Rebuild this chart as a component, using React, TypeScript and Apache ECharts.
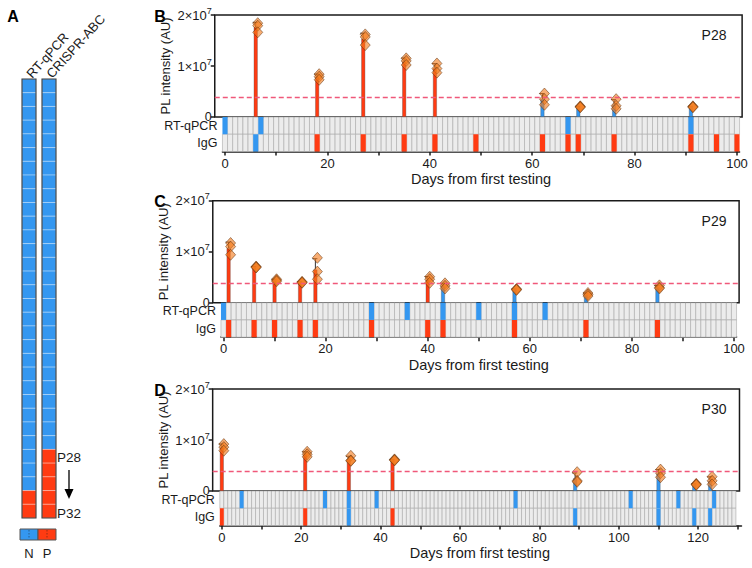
import React, { useEffect, useRef } from "react";
import * as echarts from "echarts";

const FONT = "'Liberation Sans', Arial, Helvetica, sans-serif";
const RED = "#ff3b12";
const BLUE = "#3497f0";
const CELL_GRAY = "#ececec";
const CELL_LINE = "#a9a9a9";
const INK = "#1a1a1a";
const THRESHOLD = 3.8e6;

// ---------- Panel A: per-patient results (P1 ... P32) ----------
const methodNames = ["RT-qPCR", "CRISPR-ABC"];
const rtqpcrResults = "NNNNNNNNNNNNNNNNNNNNNNNNNNNNNNPP".split("");
const crisprResults = "NNNNNNNNNNNNNNNNNNNNNNNNNNNPPPPP".split("");
const legendLabels = ["N", "P"];
const rangeLabels = ["P28", "P32"];

// ---------- Shared ----------
const yTicks = [0, 1e7, 2e7];
const stripRows = ["IgG", "RT-qPCR"];
const xAxisName = "Days from first testing";
const yAxisName = "PL intensity (AU)";

// ---------- Panel B: P28 (replicates in 10^6 AU) ----------
const p28Days = [6, 18, 27, 35, 41, 62, 69, 76, 91];
const p28Replicates = [
  [18.4, 17.9, 16.6],
  [8.4, 7.9, 7.3],
  [16.2, 15.7, 14.1],
  [11.5, 11.0, 10.2],
  [10.5, 9.5, 8.7],
  [4.6, 3.5, 2.4],
  [2.1, 2.0, 1.9],
  [3.5, 2.2, 1.6],
  [2.1, 2.0, 1.9],
];
const p28RtqpcrNeg = [0, 7, 67, 91];
const p28RtqpcrPos: number[] = [];
const p28IggNeg = [6];
const p28IggPos = [18, 27, 35, 41, 49, 62, 67, 69, 76, 91, 96, 100];

// ---------- Panel C: P29 ----------
const p29Days = [1, 6, 10, 15, 18, 40, 43, 57, 71, 85];
const p29Replicates = [
  [11.7, 11.0, 9.4],
  [7.1, 7.0, 6.9],
  [4.6, 4.4, 4.2],
  [4.1, 4.0, 3.9],
  [8.8, 6.1, 4.6],
  [5.1, 4.6, 3.9],
  [3.8, 3.3, 2.8],
  [2.7, 2.6, 2.5],
  [1.9, 1.6, 1.3],
  [3.4, 3.0, 2.8],
];
const p29RtqpcrNeg = [0, 29, 36, 43, 50, 57, 63];
const p29RtqpcrPos: number[] = [];
const p29IggNeg: number[] = [];
const p29IggPos = [1, 6, 10, 15, 18, 29, 40, 43, 57, 71, 85];

// ---------- Panel D: P30 ----------
const p30Days = [0, 21, 32, 43, 89, 110, 119, 123];
const p30Replicates = [
  [9.2, 8.6, 7.9],
  [7.7, 7.2, 6.7],
  [6.9, 6.0, 5.9],
  [6.2, 6.1, 6.0],
  [3.7, 2.0, 1.8],
  [4.2, 3.5, 2.7],
  [1.4, 1.3, 1.2],
  [2.8, 2.0, 1.3],
];
const p30RtqpcrNeg = [5, 26, 32, 39, 74, 103, 110, 115, 124];
const p30RtqpcrPos: number[] = [];
const p30IggNeg = [32, 89, 110, 119, 123];
const p30IggPos = [0, 21, 43];

type Panel = {
  letter: string;
  patient: string;
  days: number[];
  reps: number[][];
  rtNeg: number[];
  rtPos: number[];
  iggNeg: number[];
  iggPos: number[];
  nCells: number;
  axisMax: number;
  x0: number;
  ppd: number;
  upperMin: number;
  upperMax: number;
  stripMax: number;
  top: number;
};

const panels: Panel[] = [
  {
    letter: "B", patient: "P28", days: p28Days, reps: p28Replicates,
    rtNeg: p28RtqpcrNeg, rtPos: p28RtqpcrPos, iggNeg: p28IggNeg, iggPos: p28IggPos,
    nCells: 101, axisMax: 100, x0: 225, ppd: 5.12, upperMin: -2, upperMax: 101, stripMax: 100.5, top: 15,
  },
  {
    letter: "C", patient: "P29", days: p29Days, reps: p29Replicates,
    rtNeg: p29RtqpcrNeg, rtPos: p29RtqpcrPos, iggNeg: p29IggNeg, iggPos: p29IggPos,
    nCells: 101, axisMax: 100, x0: 223.5, ppd: 5.105, upperMin: -2.1, upperMax: 101, stripMax: 100.5, top: 200.7,
  },
  {
    letter: "D", patient: "P30", days: p30Days, reps: p30Replicates,
    rtNeg: p30RtqpcrNeg, rtPos: p30RtqpcrPos, iggNeg: p30IggNeg, iggPos: p30IggPos,
    nCells: 130, axisMax: 130, x0: 221.8, ppd: 3.97, upperMin: -2.3, upperMax: 130.4, stripMax: 130.9, top: 389,
  },
];

const UPPER_H = 102;
const STRIP_H = 34.5;

function meanSd(vals: number[]) {
  const v = vals.map((x) => x * 1e6);
  const m = v.reduce((a, b) => a + b, 0) / v.length;
  const sd = Math.sqrt(v.reduce((a, b) => a + (b - m) * (b - m), 0) / (v.length - 1));
  return { m, sd };
}

const GRID_BASE = { containLabel: false, outerBoundsMode: "none" };

function buildOption() {
  const grid: any[] = [];
  const xAxis: any[] = [];
  const yAxis: any[] = [];
  const series: any[] = [];
  const graphic: any[] = [];

  // ---------- Panel A ----------
  grid.push({ ...GRID_BASE, left: 19, top: 79, width: 40, height: 439 });
  xAxis.push({
    gridIndex: 0, type: "category", data: methodNames, position: "top",
    axisLine: { show: false }, axisTick: { show: false },
    axisLabel: { rotate: 48, fontSize: 13, color: INK, fontFamily: FONT, margin: 3, interval: 0 },
  });
  yAxis.push({ gridIndex: 0, type: "value", min: 0, max: rtqpcrResults.length, inverse: true, show: false });
  const aCells: any[] = [];
  [rtqpcrResults, crisprResults].forEach((col, ci) =>
    col.forEach((r, i) => aCells.push([ci, i, r === "P" ? 1 : 0]))
  );
  series.push({
    type: "custom", xAxisIndex: 0, yAxisIndex: 0, data: aCells, silent: true,
    renderItem: (_p: any, api: any) => {
      const c0 = api.coord([api.value(0), api.value(1)]);
      const c1 = api.coord([api.value(0), api.value(1) + 1]);
      return {
        type: "rect",
        shape: { x: c0[0] - 7, y: c0[1], width: 14, height: c1[1] - c0[1] },
        style: { fill: api.value(2) ? RED : BLUE, stroke: "rgba(255,255,255,0.4)", lineWidth: 0.8 },
      };
    },
  });
  series.push({
    type: "custom", xAxisIndex: 0, yAxisIndex: 0, data: [[0, rtqpcrResults.length], [1, crisprResults.length]], silent: true,
    renderItem: (_p: any, api: any) => {
      const c0 = api.coord([api.value(0), 0]);
      const c1 = api.coord([api.value(0), api.value(1)]);
      return {
        type: "rect",
        shape: { x: c0[0] - 7, y: c0[1], width: 14, height: c1[1] - c0[1] },
        style: { fill: "none", stroke: "#3a3a3a", lineWidth: 1.1 },
      };
    },
  });

  // ---------- Panels B, C, D ----------
  panels.forEach((p) => {
    const gU = grid.length;
    const gS = gU + 1;
    const gX = gU + 2;
    const upperLeft = p.x0 + p.upperMin * p.ppd;
    const stripLeft = p.x0 - 0.5 * p.ppd;
    grid.push({
      ...GRID_BASE,
      left: upperLeft, top: p.top, width: (p.upperMax - p.upperMin) * p.ppd, height: UPPER_H,
      show: true, borderColor: INK, borderWidth: 1.5, backgroundColor: "transparent",
    });
    grid.push({ ...GRID_BASE, left: stripLeft, top: p.top + UPPER_H, width: (p.stripMax + 0.5) * p.ppd, height: STRIP_H });
    grid.push({ ...GRID_BASE, left: p.x0, top: p.top + UPPER_H, width: p.axisMax * p.ppd, height: STRIP_H });

    xAxis.push({
      gridIndex: gU, type: "value", min: p.upperMin, max: p.upperMax,
      axisLine: { show: false, onZero: false }, axisTick: { show: false }, axisLabel: { show: false }, splitLine: { show: false },
    });
    yAxis.push({
      gridIndex: gU, type: "value", min: yTicks[0], max: yTicks[yTicks.length - 1], interval: yTicks[1] - yTicks[0],
      axisLine: { show: false, onZero: false },
      axisTick: { show: true, length: 4, lineStyle: { color: INK, width: 1.5 } },
      splitLine: { show: false },
      axisLabel: {
        margin: 3, color: INK, fontFamily: FONT, fontSize: 13, lineHeight: 7,
        formatter: (v: number) => (v === 0 ? "{z|0}" : `{b|${v / 1e7}×10}{s|7}`),
        rich: {
          z: { fontSize: 12.5, fontFamily: FONT, color: INK, lineHeight: 7 },
          b: { fontSize: 13, fontFamily: FONT, color: INK, lineHeight: 18 },
          s: { fontSize: 9, fontFamily: FONT, color: INK, verticalAlign: "top", lineHeight: 10 },
        },
      },
      name: yAxisName, nameLocation: "middle", nameGap: 43, nameRotate: 90, nameMoveOverlap: false,
      nameTextStyle: { fontSize: 13, color: INK, fontFamily: FONT },
    });

    xAxis.push({
      gridIndex: gS, type: "value", min: -0.5, max: p.stripMax,
      axisLine: { show: true, onZero: false, lineStyle: { color: INK, width: 1.5 } },
      axisTick: { show: false }, axisLabel: { show: false }, splitLine: { show: false },
    });
    yAxis.push({
      gridIndex: gS, type: "category", data: stripRows,
      axisLine: { show: false, onZero: false }, axisTick: { show: false },
      axisLabel: { fontSize: 12.5, color: INK, fontFamily: FONT, margin: 5, lineHeight: 10 },
    });

    xAxis.push({
      gridIndex: gX, type: "value", min: 0, max: p.axisMax, interval: 10,
      axisLine: { show: false, onZero: false },
      axisTick: { show: true, length: 4, lineStyle: { color: INK, width: 1.5 } },
      splitLine: { show: false },
      axisLabel: {
        interval: 0, fontSize: 13, color: INK, fontFamily: FONT, margin: 5,
        formatter: (v: number) => (v % 20 === 0 ? String(v) : ""),
      },
      name: xAxisName, nameLocation: "middle", nameGap: 20,
      nameTextStyle: { fontSize: 14.5, color: INK, fontFamily: FONT, verticalAlign: "top" },
    });
    yAxis.push({
      gridIndex: gX, type: "value", min: 0, max: 1,
      axisLine: { show: false, onZero: false }, axisTick: { show: false }, axisLabel: { show: false }, splitLine: { show: false },
    });

    const st = p.reps.map(meanSd);

    // bars (mean)
    series.push({
      type: "bar", xAxisIndex: gU, yAxisIndex: gU, barWidth: 4, silent: true,
      data: p.days.map((d, i) => ({
        value: [d, st[i].m],
        itemStyle: { color: st[i].m >= THRESHOLD ? RED : BLUE, borderColor: "rgba(70,70,70,0.55)", borderWidth: 0.6 },
      })),
      markLine: {
        silent: true, symbol: ["none", "none"], label: { show: false },
        lineStyle: { color: "#f0587a", type: [5, 3], width: 1.3, opacity: 1 },
        data: [{ yAxis: THRESHOLD, lineStyle: { color: "#f0587a", type: [5, 3], width: 1.3 } }],
      },
      z: 2,
    });

    // error bars (mean + SD)
    series.push({
      type: "custom", xAxisIndex: gU, yAxisIndex: gU, silent: true, z: 3,
      data: p.days.map((d, i) => [d, st[i].m, st[i].m + st[i].sd]),
      renderItem: (_pp: any, api: any) => {
        const a = api.coord([api.value(0), api.value(1)]);
        const b = api.coord([api.value(0), api.value(2)]);
        return {
          type: "group",
          children: [
            { type: "line", shape: { x1: a[0], y1: a[1], x2: b[0], y2: b[1] }, style: { stroke: "#333", lineWidth: 1 } },
            { type: "line", shape: { x1: b[0] - 3, y1: b[1], x2: b[0] + 2, y2: b[1] }, style: { stroke: "#333", lineWidth: 1 } },
          ],
        };
      },
    });

    // replicate points
    const pts: number[][] = [];
    p.days.forEach((d, i) => p.reps[i].forEach((v) => pts.push([d, v * 1e6])));
    series.push({
      type: "scatter", xAxisIndex: gU, yAxisIndex: gU, silent: true, z: 4,
      symbol: "diamond", symbolSize: [10, 11], symbolOffset: [2, 0],
      itemStyle: { color: "rgba(244,122,28,0.62)", borderColor: "rgba(90,45,10,0.85)", borderWidth: 0.6, opacity: 1 },
      data: pts,
    });

    // strip cells
    const grayCells: number[][] = [];
    const colorCells: number[][] = [];
    for (let d = 0; d < p.nCells; d++) {
      const rt = p.rtPos.includes(d) ? 2 : p.rtNeg.includes(d) ? 1 : 0;
      const ig = p.iggPos.includes(d) ? 2 : p.iggNeg.includes(d) ? 1 : 0;
      (rt ? colorCells : grayCells).push([d, 1, rt]);
      (ig ? colorCells : grayCells).push([d, 0, ig]);
    }
    series.push({
      type: "custom", xAxisIndex: gS, yAxisIndex: gS, silent: true, z: 1,
      data: grayCells.concat(colorCells),
      renderItem: (_pp: any, api: any) => {
        const c = api.coord([api.value(0), api.value(1)]);
        const sz = api.size([1, 1]);
        const s = api.value(2);
        return {
          type: "rect",
          shape: { x: c[0] - sz[0] / 2, y: c[1] - sz[1] / 2, width: sz[0], height: sz[1] },
          style: {
            fill: s === 2 ? RED : s === 1 ? BLUE : CELL_GRAY,
            stroke: s ? "none" : CELL_LINE,
            lineWidth: 0.6,
          },
        };
      },
    });

    graphic.push({
      type: "text", x: 160, y: p.top + 1,
      style: { text: p.letter, fontSize: 16, fontWeight: "bold", fontFamily: FONT, fill: "#000", align: "center", verticalAlign: "middle" },
    });
    graphic.push({
      type: "text", x: 714, y: p.top + 20,
      style: { text: p.patient, fontSize: 14, fontFamily: FONT, fill: INK, align: "center", verticalAlign: "middle" },
    });
  });

  // ---------- Panel A annotations ----------
  graphic.push(
    { type: "text", x: 13, y: 16, style: { text: "A", fontSize: 16, fontWeight: "bold", fontFamily: FONT, fill: "#000", align: "center", verticalAlign: "middle" } },
    { type: "rect", shape: { x: 20, y: 529, width: 18, height: 11 }, style: { fill: BLUE, stroke: "#555", lineWidth: 1 } },
    { type: "rect", shape: { x: 38, y: 529, width: 18, height: 11 }, style: { fill: RED, stroke: "#555", lineWidth: 1 } },
    { type: "line", shape: { x1: 29, y1: 530, x2: 29, y2: 539 }, style: { stroke: "rgba(30,30,30,0.6)", lineWidth: 0.8, lineDash: [1.5, 1.5] } },
    { type: "line", shape: { x1: 47, y1: 530, x2: 47, y2: 539 }, style: { stroke: "rgba(30,30,30,0.6)", lineWidth: 0.8, lineDash: [1.5, 1.5] } },
    { type: "text", x: 29, y: 553, style: { text: legendLabels[0], fontSize: 13, fontFamily: FONT, fill: INK, align: "center", verticalAlign: "middle" } },
    { type: "text", x: 47, y: 553, style: { text: legendLabels[1], fontSize: 13, fontFamily: FONT, fill: INK, align: "center", verticalAlign: "middle" } },
    { type: "text", x: 57, y: 457, style: { text: rangeLabels[0], fontSize: 13.5, fontFamily: FONT, fill: INK, align: "left", verticalAlign: "middle" } },
    { type: "text", x: 57, y: 513, style: { text: rangeLabels[1], fontSize: 13.5, fontFamily: FONT, fill: INK, align: "left", verticalAlign: "middle" } },
    { type: "line", shape: { x1: 69, y1: 470, x2: 69, y2: 491 }, style: { stroke: "#000", lineWidth: 1.3 } },
    { type: "polygon", shape: { points: [[64.5, 489], [73.5, 489], [69, 499]] }, style: { fill: "#000" } }
  );

  return {
    animation: false,
    backgroundColor: "#fff",
    textStyle: { fontFamily: FONT },
    grid,
    xAxis,
    yAxis,
    series,
    graphic,
  };
}

export default function App() {
  const ref = useRef<HTMLDivElement>(null);
  useEffect(() => {
    if (!ref.current) return;
    const chart = echarts.init(ref.current, null, { renderer: "svg" });
    chart.setOption(buildOption() as any);
    return () => chart.dispose();
  }, []);
  return <div ref={ref} style={{ position: "fixed", left: 0, top: 0, width: 752, height: 568 }} />;
}
